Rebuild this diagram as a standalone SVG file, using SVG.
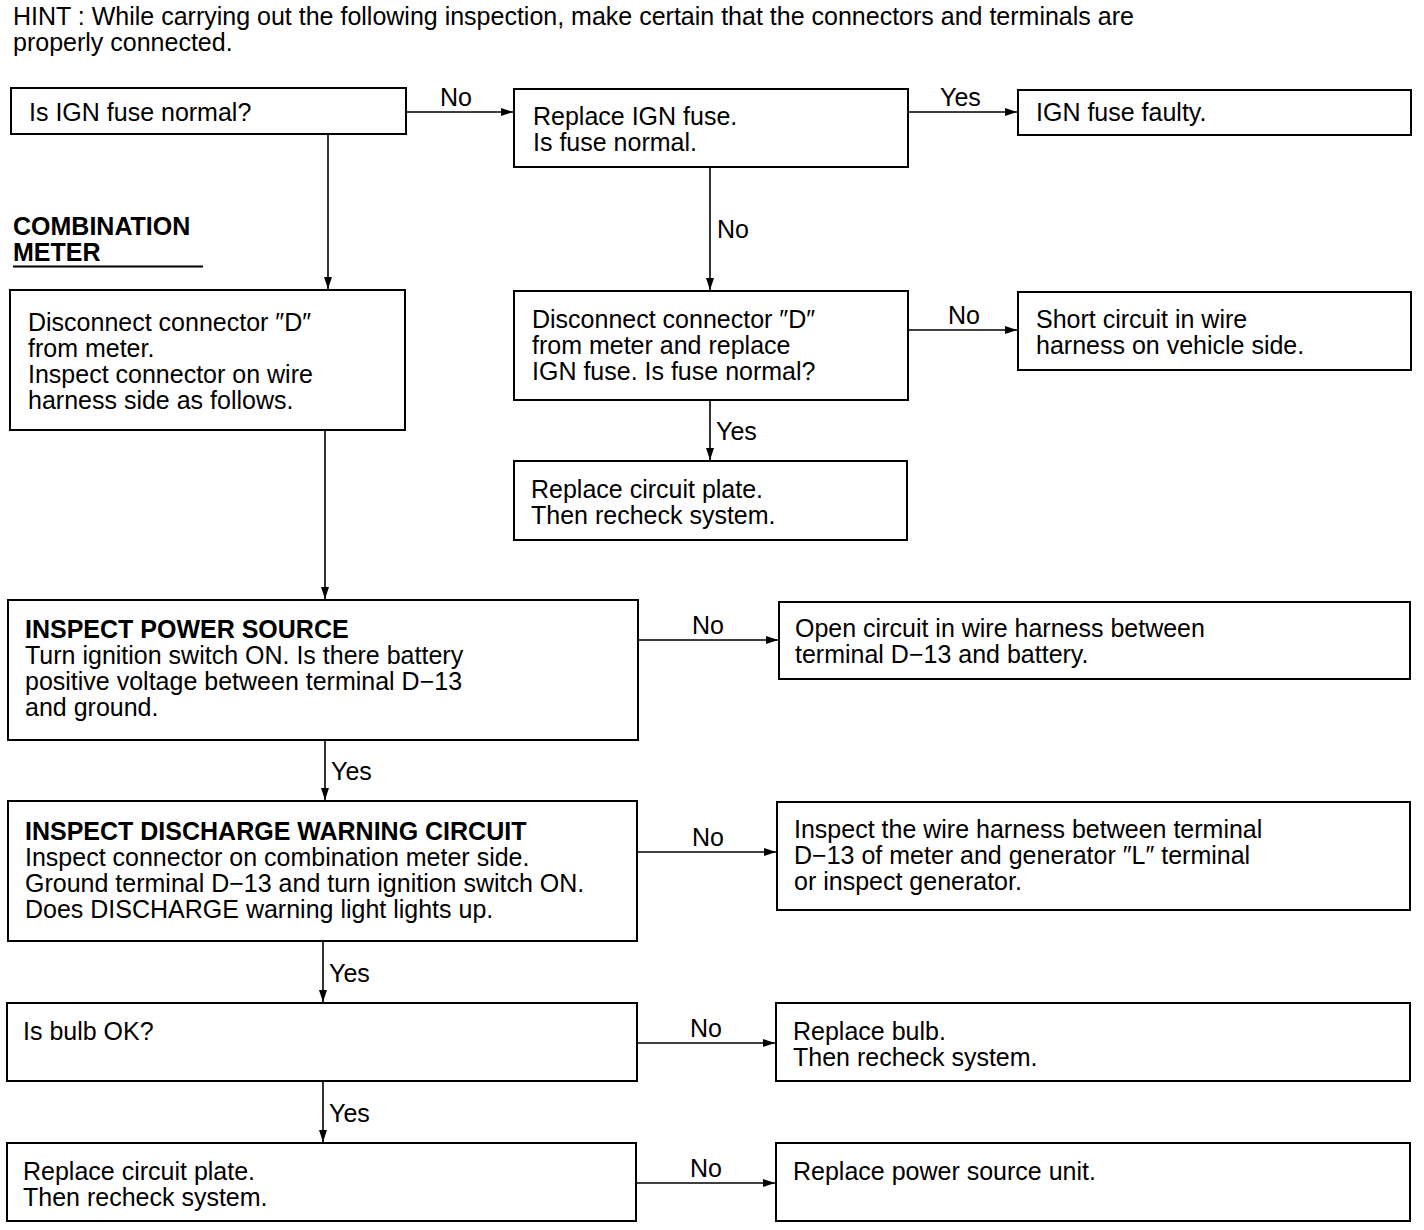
<svg xmlns="http://www.w3.org/2000/svg" width="1424" height="1230" viewBox="0 0 1424 1230">
<defs>
<marker id="ah" viewBox="0 0 12 8" refX="12" refY="4" markerWidth="12" markerHeight="8" markerUnits="userSpaceOnUse" orient="auto">
<path d="M0,0 L12,4 L0,8 Z" fill="#000"/>
</marker>
<style>
text{font-family:"Liberation Sans",Arial,sans-serif;font-size:25px;fill:#000}
.b{font-weight:bold}
.box{fill:#fff;stroke:#000;stroke-width:2}
.c{stroke:#000;stroke-width:1.6;fill:none;marker-end:url(#ah)}
</style>
</defs>
<rect width="1424" height="1230" fill="#fff"/>
<g id="hint">
<text x="13" y="25">HINT : While carrying out the following inspection, make certain that the connectors and terminals are</text>
<text x="13" y="51">properly connected.</text>
</g>
<g id="section-label">
<text class="b" x="13" y="235">COMBINATION</text>
<text class="b" x="13" y="261">METER</text>
<line x1="13" y1="266.5" x2="203" y2="266.5" stroke="#000" stroke-width="2"/>
</g>
<g id="connectors">
<line class="c" x1="406" y1="112" x2="513" y2="112"/>
<text x="440" y="106">No</text>
<line class="c" x1="908" y1="112" x2="1017" y2="112"/>
<text x="940" y="106">Yes</text>
<line class="c" x1="328" y1="134" x2="328" y2="289"/>
<line class="c" x1="710" y1="167" x2="710" y2="290"/>
<text x="717" y="238">No</text>
<line class="c" x1="908" y1="330" x2="1017" y2="330"/>
<text x="948" y="324">No</text>
<line class="c" x1="710" y1="400" x2="710" y2="460"/>
<text x="716" y="440">Yes</text>
<line class="c" x1="325" y1="430" x2="325" y2="599"/>
<line class="c" x1="638" y1="640" x2="778" y2="640"/>
<text x="692" y="634">No</text>
<line class="c" x1="325" y1="740" x2="325" y2="800"/>
<text x="331" y="780">Yes</text>
<line class="c" x1="637" y1="852" x2="776" y2="852"/>
<text x="692" y="846">No</text>
<line class="c" x1="323" y1="941" x2="323" y2="1002"/>
<text x="329" y="982">Yes</text>
<line class="c" x1="637" y1="1043" x2="775" y2="1043"/>
<text x="690" y="1037">No</text>
<line class="c" x1="323" y1="1081" x2="323" y2="1142"/>
<text x="329" y="1122">Yes</text>
<line class="c" x1="636" y1="1183" x2="775" y2="1183"/>
<text x="690" y="1177">No</text>
</g>
<g id="n1"><rect class="box" x="11" y="88" width="395" height="46"/><text x="29" y="121">Is IGN fuse normal?</text></g>
<g id="n2"><rect class="box" x="514" y="89" width="394" height="78"/><text x="533" y="125">Replace IGN fuse.</text><text x="533" y="151">Is fuse normal.</text></g>
<g id="n3"><rect class="box" x="1018" y="90" width="393" height="45"/><text x="1036" y="121">IGN fuse faulty.</text></g>
<g id="n4"><rect class="box" x="10" y="290" width="395" height="140"/>
<text x="28" y="331">Disconnect connector ″D″</text><text x="28" y="357">from meter.</text><text x="28" y="383">Inspect connector on wire</text><text x="28" y="409">harness side as follows.</text></g>
<g id="n5"><rect class="box" x="514" y="291" width="394" height="109"/>
<text x="532" y="328">Disconnect connector ″D″</text><text x="532" y="354">from meter and replace</text><text x="532" y="380">IGN fuse. Is fuse normal?</text></g>
<g id="n6"><rect class="box" x="1018" y="292" width="393" height="78"/>
<text x="1036" y="328">Short circuit in wire</text><text x="1036" y="354">harness on vehicle side.</text></g>
<g id="n7"><rect class="box" x="514" y="461" width="393" height="79"/>
<text x="531" y="498">Replace circuit plate.</text><text x="531" y="524">Then recheck system.</text></g>
<g id="n8"><rect class="box" x="8" y="600" width="630" height="140"/>
<text class="b" x="25" y="638">INSPECT POWER SOURCE</text><text x="25" y="664">Turn ignition switch ON. Is there battery</text><text x="25" y="690">positive voltage between terminal D−13</text><text x="25" y="716">and ground.</text></g>
<g id="n9"><rect class="box" x="779" y="602" width="631" height="77"/>
<text x="795" y="637">Open circuit in wire harness between</text><text x="795" y="663">terminal D−13 and battery.</text></g>
<g id="n10"><rect class="box" x="8" y="801" width="629" height="140"/>
<text class="b" x="25" y="840">INSPECT DISCHARGE WARNING CIRCUIT</text><text x="25" y="866">Inspect connector on combination meter side.</text><text x="25" y="892">Ground terminal D−13 and turn ignition switch ON.</text><text x="25" y="918">Does DISCHARGE warning light lights up.</text></g>
<g id="n11"><rect class="box" x="777" y="802" width="633" height="108"/>
<text x="794" y="838">Inspect the wire harness between terminal</text><text x="794" y="864">D−13 of meter and generator ″L″ terminal</text><text x="794" y="890">or inspect generator.</text></g>
<g id="n12"><rect class="box" x="7" y="1003" width="630" height="78"/><text x="23" y="1040">Is bulb OK?</text></g>
<g id="n13"><rect class="box" x="776" y="1003" width="634" height="78"/>
<text x="793" y="1040">Replace bulb.</text><text x="793" y="1066">Then recheck system.</text></g>
<g id="n14"><rect class="box" x="7" y="1143" width="629" height="78"/>
<text x="23" y="1180">Replace circuit plate.</text><text x="23" y="1206">Then recheck system.</text></g>
<g id="n15"><rect class="box" x="776" y="1143" width="634" height="78"/><text x="793" y="1180">Replace power source unit.</text></g>
</svg>
